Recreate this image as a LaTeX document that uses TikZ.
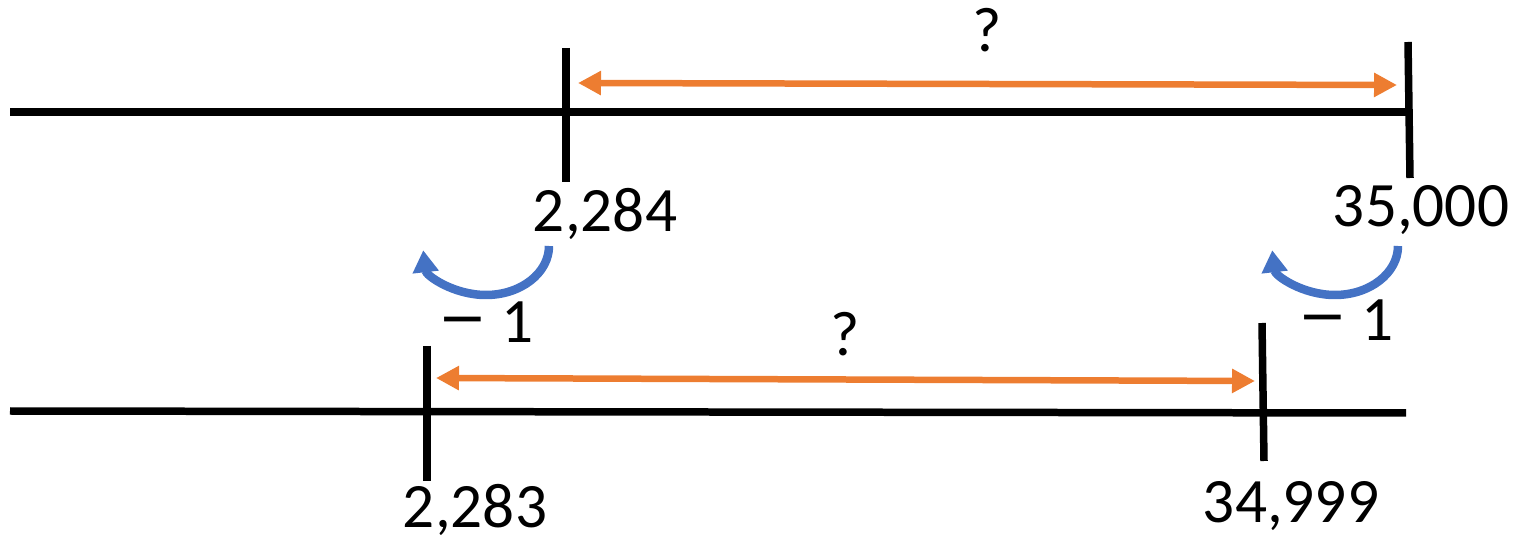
\documentclass[tikz,border=0pt]{standalone}
\usepackage{fontspec}
\usepackage{graphicx}
\setmainfont{Carlito}
\usetikzlibrary{arrows.meta}
\definecolor{orng}{HTML}{ED7D31}
\definecolor{blu}{HTML}{4472C4}
\newcommand{\bigminus}{\scalebox{1.55}[1.15]{\char"2212\relax}}
\tikzset{
  numline/.style={line width=0.15cm, black},
  tickmark/.style={line width=0.15cm, black},
  gap/.style={line width=0.13cm, orng, {Triangle[length=0.46cm,width=0.46cm]}-{Triangle[length=0.46cm,width=0.46cm]}},
  back/.style={line width=0.17cm, blu, -{Triangle[length=0.44cm,width=0.5cm]}},
  lbl/.style={inner sep=0pt, anchor=base, font=\fontsize{36}{43}\selectfont}
}
\begin{document}
\begin{tikzpicture}[x=0.02cm,y=-0.02cm]
\useasboundingbox (0,0) rectangle (1522,540);
% top number line
\coordinate (tl) at (10,112);
\coordinate (tr) at (1408,112);
\draw[numline] (tl) -- (tr);
\coordinate (t1a) at (566,48); \coordinate (t1b) at (566,182);
\coordinate (t2a) at (1408,42); \coordinate (t2b) at (1410,178);
\draw[tickmark] (t1a) -- (t1b);
\draw[tickmark] (t2a) -- (t2b);
\coordinate (ga) at (578,83); \coordinate (gb) at (1397,85);
\draw[gap] (ga) -- (gb);
\node[lbl] (q1) at (987,52) {?};
\node[lbl] (n1) at (605,232) {2,284};
\node[lbl] (n2) at (1421,227) {35,000};
% bottom number line
\coordinate (bl) at (10,411);
\coordinate (br) at (1406,413);
\draw[numline] (bl) -- (br);
\coordinate (b1a) at (427,346); \coordinate (b1b) at (427,481);
\coordinate (b2a) at (1262,323); \coordinate (b2b) at (1264,461);
\draw[tickmark] (b1a) -- (b1b);
\draw[tickmark] (b2a) -- (b2b);
\coordinate (ha) at (436,378); \coordinate (hb) at (1255,381);
\draw[gap] (ha) -- (hb);
\node[lbl] (q2) at (845,356) {?};
\node[lbl] (n3) at (475,527) {2,283};
\node[lbl] (n4) at (1291,522) {34,999};
% back arrows
\coordinate (s1) at (549,246);
\coordinate (s2) at (1398,246);
\draw[back] (s1) arc[start angle=0, end angle=175, x radius=63, y radius=49];
\draw[back] (s2) arc[start angle=0, end angle=175, x radius=63, y radius=49];
\node[lbl] (m1) at (486,343) {\bigminus{} 1};
\node[lbl] (m2) at (1346,341) {\bigminus{} 1};
\end{tikzpicture}
\end{document}
